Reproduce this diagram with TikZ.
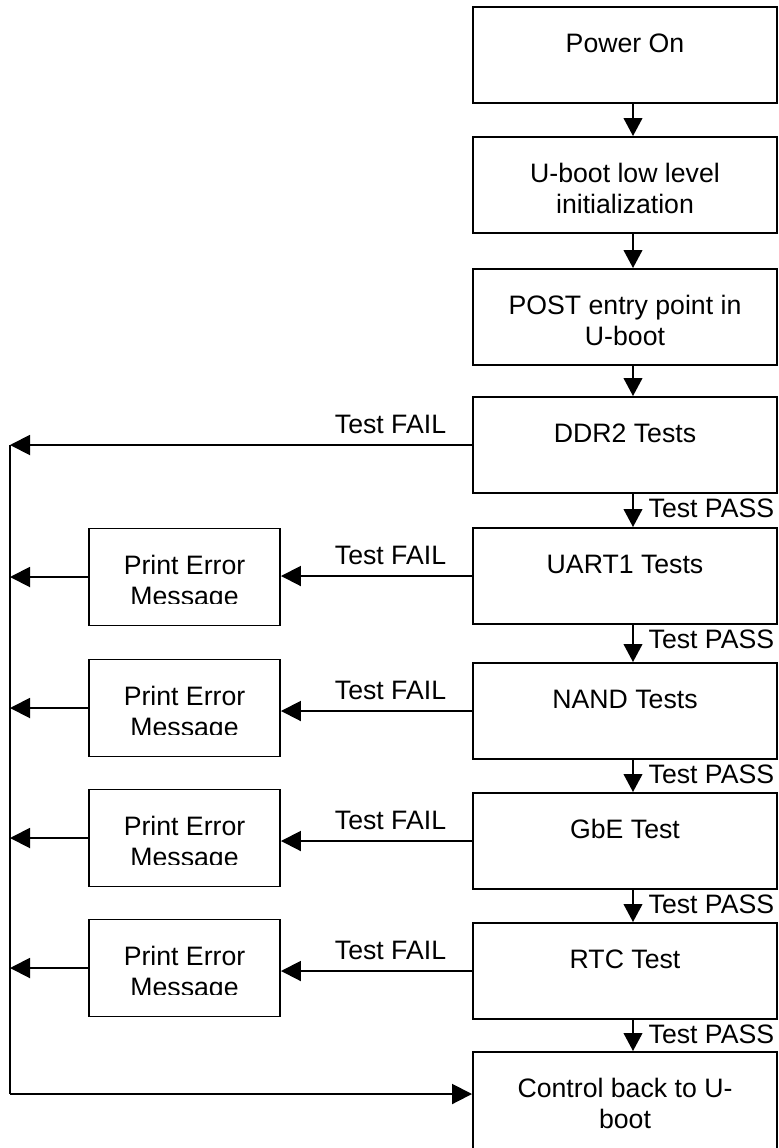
\documentclass[tikz,border=0pt]{standalone}
\usepackage{fontspec}
\setmainfont{Liberation Sans}
\usetikzlibrary{arrows.meta}
\begin{document}
\begin{tikzpicture}[x=0.75pt,y=-0.75pt, line width=1.45pt,
 every node/.style={font=\fontsize{20pt}{23.25pt}\selectfont},
 mbox/.style={draw, minimum width=228pt, minimum height=72pt, inner sep=0},
 pbox/.style={draw, minimum width=143.25pt, minimum height=72.75pt, inner sep=0},
 btext/.style={anchor=north, inner sep=0, align=center, yshift=-17.85pt},
 varrow/.style={-{Triangle[length=13.5pt,width=14pt]}},
 harrow/.style={-{Triangle[length=15pt,width=15pt]}},
 faillbl/.style={anchor=base east, inner sep=0, xshift=-18.75pt, yshift=9pt},
 passlbl/.style={anchor=base west, inner sep=0, xshift=17pt, yshift=-18pt}]
\useasboundingbox (0,0) rectangle (778,1148);
\clip (0,0) rectangle (778,1148);
\coordinate (lx) at (10,0);
\coordinate (cb) at (10,1094);
% main boxes
\node[mbox] (pw) at (625,55) {};
\node[mbox] (ub) at (625,185) {};
\node[mbox] (po) at (625,317) {};
\node[mbox] (dd) at (625,445) {};
\node[mbox] (ua) at (625,576) {};
\node[mbox] (na) at (625,711) {};
\node[mbox] (gb) at (625,841) {};
\node[mbox] (rt) at (625,971) {};
\node[mbox, minimum height=75pt] (ct) at (625,1102) {};
\node[btext] (tpw) at (pw.north) {\strut Power On};
\node[btext] (tub) at (ub.north) {\strut U-boot low level\\initialization};
\node[btext] (tpo) at (po.north) {\strut POST entry point in\\U-boot};
\node[btext] (tdd) at (dd.north) {\strut DDR2 Tests};
\node[btext] (tua) at (ua.north) {\strut UART1 Tests};
\node[btext] (tna) at (na.north) {\strut NAND Tests};
\node[btext] (tgb) at (gb.north) {\strut GbE Test};
\node[btext] (trt) at (rt.north) {\strut RTC Test};
\node[btext] (tct) at (ct.north) {\strut Control back to U-\\boot};
% vertical arrows
\draw[varrow] ([xshift=6pt]pw.south) -- ([xshift=6pt]ub.north);
\draw[varrow] ([xshift=6pt]ub.south) -- ([xshift=6pt]po.north);
\draw[varrow] ([xshift=6pt]po.south) -- ([xshift=6pt]dd.north);
\draw[varrow] ([xshift=6pt]dd.south) -- ([xshift=6pt]ua.north);
\draw[varrow] ([xshift=6pt]ua.south) -- ([xshift=6pt]na.north);
\draw[varrow] ([xshift=6pt]na.south) -- ([xshift=6pt]gb.north);
\draw[varrow] ([xshift=6pt]gb.south) -- ([xshift=6pt]rt.north);
\draw[varrow] ([xshift=6pt]rt.south) -- ([xshift=6pt]ct.north);
\foreach \b in {dd,ua,na,gb,rt}{
  \node[passlbl] (pass\b) at (\b.south) {Test PASS};
  \node[faillbl] (fail\b) at (\b.west) {Test FAIL};
}
% print error boxes
\foreach \b/\y in {ua/577,na/708,gb/838,rt/968}{
  \node[pbox] (pe\b) at (184.5,\y) {};
  \begin{scope}
    \clip ([yshift=2pt]pe\b.north west) rectangle ([yshift=-57pt]pe\b.north east);
    \node[btext] (pt\b) at (pe\b.north) {\strut Print Error\\Message};
  \end{scope}
  \draw[harrow] (\b.west) -- (\b.west -| pe\b.east);
  \draw[harrow] (pe\b.west) -- (pe\b.west -| lx);
}
\draw[harrow] (dd.west) -- (dd.west -| lx);
\draw (dd.west -| lx) -- (cb);
\draw[harrow] (cb) -- (cb -| ct.west);
\end{tikzpicture}
\end{document}
